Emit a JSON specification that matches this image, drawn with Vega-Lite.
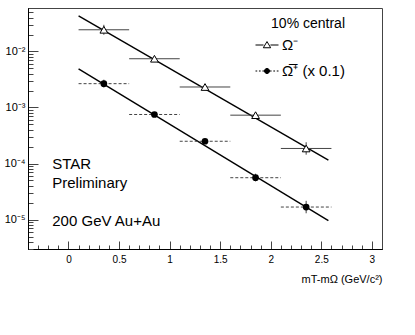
{
  "$schema": "https://vega.github.io/schema/vega-lite/v6.json",
  "autosize": {"type": "none"},
  "width": 354,
  "height": 241,
  "padding": {"left": 28, "top": 8, "right": 33, "bottom": 86},
  "background": "white",
  "config": {"font": "Liberation Sans", "view": {"stroke": "#444", "strokeWidth": 1}},
  "datasets": {
    "points": [
      {"series": "Ω⁻", "x": 0.35, "xlo": 0.1, "xhi": 0.6, "y": 0.0243, "ylo": 0.0198, "yhi": 0.0298},
      {"series": "Ω⁻", "x": 0.85, "xlo": 0.6, "xhi": 1.1, "y": 0.0074, "ylo": 0.0068, "yhi": 0.0080},
      {"series": "Ω⁻", "x": 1.35, "xlo": 1.1, "xhi": 1.6, "y": 0.00232, "ylo": 0.00214, "yhi": 0.00251},
      {"series": "Ω⁻", "x": 1.85, "xlo": 1.6, "xhi": 2.1, "y": 0.00073, "ylo": 0.00065, "yhi": 0.00082},
      {"series": "Ω⁻", "x": 2.35, "xlo": 2.1, "xhi": 2.6, "y": 0.000186, "ylo": 0.000144, "yhi": 0.00024},
      {"series": "Ω̅⁺ (x 0.1)", "x": 0.35, "xlo": 0.1, "xhi": 0.6, "y": 0.00266, "ylo": 0.00226, "yhi": 0.00313},
      {"series": "Ω̅⁺ (x 0.1)", "x": 0.85, "xlo": 0.6, "xhi": 1.1, "y": 0.00075, "ylo": 0.00069, "yhi": 0.00081},
      {"series": "Ω̅⁺ (x 0.1)", "x": 1.35, "xlo": 1.1, "xhi": 1.6, "y": 0.00025, "ylo": 0.000239, "yhi": 0.000262},
      {"series": "Ω̅⁺ (x 0.1)", "x": 1.85, "xlo": 1.6, "xhi": 2.1, "y": 0.000056, "ylo": 0.000048, "yhi": 0.000066},
      {"series": "Ω̅⁺ (x 0.1)", "x": 2.35, "xlo": 2.1, "xhi": 2.6, "y": 0.0000168, "ylo": 0.000013, "yhi": 0.0000217}
    ],
    "fits": [
      {"series": "Ω⁻", "x": 0.1, "y": 0.043},
      {"series": "Ω⁻", "x": 2.57, "y": 0.000115},
      {"series": "Ω̅⁺ (x 0.1)", "x": 0.1, "y": 0.0049},
      {"series": "Ω̅⁺ (x 0.1)", "x": 2.57, "y": 0.0000096}
    ]
  },
  "resolve": {"axis": {"x": "independent", "y": "independent"}},
  "layer": [
    {
      "data": {"name": "fits"},
      "mark": {"type": "line", "color": "black", "strokeWidth": 1.4},
      "encoding": {
        "x": {
          "field": "x", "type": "quantitative",
          "scale": {"domain": [-0.4, 3.1], "nice": false, "zero": false},
          "axis": {
            "orient": "bottom",
            "values": [-0.3,-0.2,-0.1,0.1,0.2,0.3,0.4,0.6,0.7,0.8,0.9,1.1,1.2,1.3,1.4,1.6,1.7,1.8,1.9,2.1,2.2,2.3,2.4,2.6,2.7,2.8,2.9],
            "tickCount": 1000,
            "labels": false,
            "ticks": true,
            "tickSize": -4,
            "tickColor": "#444",
            "tickWidth": 1,
            "tickOpacity": 1,
            "domainColor": "black",
            "grid": false,
            "title": null
          }
        },
        "y": {
          "field": "y", "type": "quantitative",
          "scale": {"type": "log", "domain": [0.000003, 0.0594], "nice": false},
          "axis": {
            "orient": "left",
            "values": [0.000003,0.000004,0.000005,0.000006,0.000007,0.000008,0.000009,0.00002,0.00003,0.00004,0.00005,0.00006,0.00007,0.00008,0.00009,0.0002,0.0003,0.0004,0.0005,0.0006,0.0007,0.0008,0.0009,0.002,0.003,0.004,0.005,0.006,0.007,0.008,0.009,0.02,0.03,0.04,0.05],
            "tickCount": 1000,
            "labels": false,
            "ticks": true,
            "tickSize": -5,
            "tickColor": "#444",
            "tickWidth": 1,
            "tickOpacity": 1,
            "domainColor": "black",
            "grid": false,
            "title": null
          }
        },
        "detail": {"field": "series"}
      }
    },
    {
      "data": {"name": "points"},
      "transform": [{"filter": "datum.series == 'Ω⁻'"}],
      "mark": {"type": "rule", "color": "#444", "strokeWidth": 1},
      "encoding": {
        "x": {
          "field": "xlo", "type": "quantitative",
          "axis": {
            "orient": "bottom",
            "values": [0, 0.5, 1, 1.5, 2, 2.5, 3],
            "tickCount": 1000,
            "labelExpr": "toString(datum.value)",
            "ticks": true,
            "tickSize": -8,
            "tickColor": "#444",
            "tickWidth": 1,
            "tickOpacity": 1,
            "domainColor": "black",
            "labelFontSize": 10,
            "labelColor": "black",
            "labelPadding": 13,
            "labelOverlap": false,
            "labelFlush": false,
            "grid": false,
            "title": "mT-mΩ (GeV/c²)",
            "titleFontSize": 11,
            "titleFontWeight": "normal",
            "titleColor": "black",
            "titleAnchor": "end",
            "titlePadding": 9
          }
        },
        "x2": {"field": "xhi"},
        "y": {
          "field": "y", "type": "quantitative",
          "axis": {
            "orient": "left",
            "values": [0.00001, 0.0001, 0.001, 0.01],
            "tickCount": 1000,
            "labelExpr": "datum.value < 0.00005 ? '10⁻⁵' : datum.value < 0.0005 ? '10⁻⁴' : datum.value < 0.005 ? '10⁻³' : '10⁻²'",
            "ticks": true,
            "tickSize": -10,
            "tickColor": "#444",
            "tickWidth": 1,
            "tickOpacity": 1,
            "domainColor": "black",
            "labelFontSize": 11,
            "labelColor": "black",
            "labelPadding": 13,
            "labelOverlap": false,
            "labelFlush": false,
            "grid": false,
            "title": null
          }
        }
      }
    },
    {
      "data": {"name": "points"},
      "transform": [{"filter": "datum.series != 'Ω⁻'"}],
      "mark": {"type": "rule", "color": "#444", "strokeWidth": 1, "strokeDash": [3, 2]},
      "encoding": {
        "x": {"field": "xlo", "type": "quantitative", "axis": null},
        "x2": {"field": "xhi"},
        "y": {"field": "y", "type": "quantitative", "axis": null}
      }
    },
    {
      "data": {"name": "points"},
      "mark": {"type": "rule", "color": "#444", "strokeWidth": 1},
      "encoding": {
        "x": {"field": "x", "type": "quantitative", "axis": null},
        "y": {"field": "ylo", "type": "quantitative", "axis": null},
        "y2": {"field": "yhi"}
      }
    },
    {
      "data": {"name": "points"},
      "transform": [{"filter": "datum.series == 'Ω⁻'"}],
      "mark": {"type": "point", "shape": "triangle-up", "filled": true, "fill": "white", "stroke": "black", "strokeWidth": 1, "size": 60, "opacity": 1},
      "encoding": {
        "x": {"field": "x", "type": "quantitative", "axis": null},
        "y": {"field": "y", "type": "quantitative", "axis": null}
      }
    },
    {
      "data": {"name": "points"},
      "transform": [{"filter": "datum.series != 'Ω⁻'"}],
      "mark": {"type": "point", "shape": "circle", "filled": true, "fill": "black", "size": 45, "opacity": 1},
      "encoding": {
        "x": {"field": "x", "type": "quantitative", "axis": null},
        "y": {"field": "y", "type": "quantitative", "axis": null}
      }
    },
    {
      "data": {"name": "points"},
      "mark": {"type": "point", "opacity": 0, "strokeWidth": 1, "filled": true},
      "encoding": {
        "x": {"field": "x", "type": "quantitative", "axis": null},
        "y": {"field": "y", "type": "quantitative", "axis": null},
        "shape": {
          "field": "series", "type": "nominal",
          "scale": {"domain": ["Ω⁻", "Ω̅⁺ (x 0.1)"], "range": [
            "M-1,0H-0.3M0.3,0H1M0,-0.3L0.32,0.24L-0.32,0.24Z",
            "M-1,0H-0.85M-0.7,0H-0.55M-0.4,0H-0.25M0.25,0H0.4M0.55,0H0.7M0.85,0H1M-0.22,0A0.22,0.22 0 1,0 0.22,0A0.22,0.22 0 1,0 -0.22,0Z"
          ]},
          "legend": {
            "title": "10% central",
            "orient": "none",
            "legendX": 227,
            "legendY": 9,
            "titleFontSize": 14,
            "titleFontWeight": "normal",
            "titleColor": "black",
            "titleAnchor": "end",
            "titlePadding": 2,
            "labelFontSize": 15,
            "labelColor": "black",
            "labelOffset": 3,
            "symbolSize": 529,
            "symbolStrokeWidth": 1,
            "symbolOpacity": 1,
            "rowPadding": 6,
            "padding": 0
          }
        },
        "fill": {
          "field": "series", "type": "nominal",
          "scale": {"domain": ["Ω⁻", "Ω̅⁺ (x 0.1)"], "range": ["white", "black"]}
        },
        "stroke": {
          "field": "series", "type": "nominal",
          "scale": {"domain": ["Ω⁻", "Ω̅⁺ (x 0.1)"], "range": ["black", "black"]}
        }
      }
    },
    {
      "data": {"values": [{}]},
      "mark": {"type": "text", "text": "STAR", "align": "left", "baseline": "middle", "fontSize": 15, "color": "black"},
      "encoding": {"x": {"datum": -0.16, "axis": null}, "y": {"datum": 0.0001, "axis": null}}
    },
    {
      "data": {"values": [{}]},
      "mark": {"type": "text", "text": "Preliminary", "align": "left", "baseline": "middle", "fontSize": 15, "color": "black"},
      "encoding": {"x": {"datum": -0.16, "axis": null}, "y": {"datum": 0.0000457, "axis": null}}
    },
    {
      "data": {"values": [{}]},
      "mark": {"type": "text", "text": "200 GeV  Au+Au", "align": "left", "baseline": "middle", "fontSize": 15, "color": "black"},
      "encoding": {"x": {"datum": -0.16, "axis": null}, "y": {"datum": 0.0000094, "axis": null}}
    }
  ]
}
